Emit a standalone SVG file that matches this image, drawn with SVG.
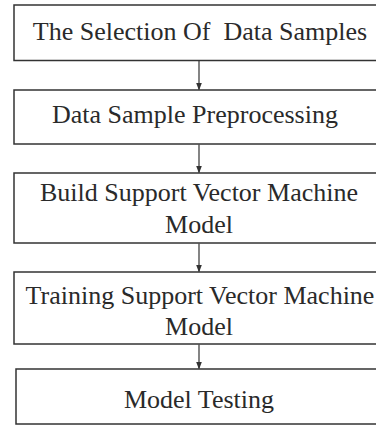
<svg xmlns="http://www.w3.org/2000/svg" width="376" height="426" viewBox="0 0 376 426">
<defs>
<marker id="ah" markerWidth="8" markerHeight="10" refX="7" refY="4" orient="auto" markerUnits="userSpaceOnUse" viewBox="0 0 8 8">
<path d="M0,1 L8,4 L0,7 z" fill="#333"/>
</marker>
<style>
.box{fill:#fff;stroke:#333;stroke-width:1.5}
.t{font-family:"Liberation Serif","Times New Roman",serif;font-size:26px;fill:#2a2a2a;text-anchor:middle;white-space:pre}
.c{stroke:#333;stroke-width:1.2;fill:none}
</style>
</defs>
<rect width="376" height="426" fill="#fff"/>
<g id="connectors">
<line class="c" x1="199" y1="61" x2="199" y2="89.5" marker-end="url(#ah)"/>
<line class="c" x1="199" y1="144.5" x2="199" y2="172.5" marker-end="url(#ah)"/>
<line class="c" x1="199" y1="243.5" x2="199" y2="271.5" marker-end="url(#ah)"/>
<line class="c" x1="199" y1="344.5" x2="199" y2="368.5" marker-end="url(#ah)"/>
</g>
<g id="n1">
<rect class="box" x="14" y="5" width="370" height="55.5"/>
<text class="t" x="200" y="40" xml:space="preserve">The Selection Of  Data Samples</text>
</g>
<g id="n2">
<rect class="box" x="14" y="90" width="370" height="54"/>
<text class="t" x="195" y="123">Data Sample Preprocessing</text>
</g>
<g id="n3">
<rect class="box" x="14" y="173" width="370" height="70"/>
<text class="t" x="199" y="201">Build Support Vector Machine</text>
<text class="t" x="199" y="233">Model</text>
</g>
<g id="n4">
<rect class="box" x="14" y="272" width="370" height="72"/>
<text class="t" x="200" y="304">Training Support Vector Machine</text>
<text class="t" x="199" y="335">Model</text>
</g>
<g id="n5">
<rect class="box" x="16" y="369" width="370" height="55"/>
<text class="t" x="199" y="408">Model Testing</text>
</g>
</svg>
